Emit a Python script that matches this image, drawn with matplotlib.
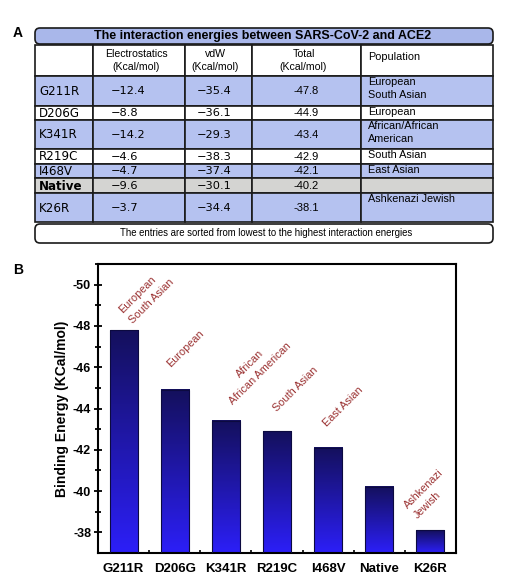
import numpy as np
import matplotlib
matplotlib.use("Agg")
import matplotlib.pyplot as plt
from matplotlib.patches import Rectangle, FancyBboxPatch
from matplotlib.colors import LinearSegmentedColormap

plt.rcParams['font.family'] = ['Liberation Sans', 'DejaVu Sans']

# data
mutations = ["G211R", "D206G", "K341R", "R219C", "I468V", "Native", "K26R"]
electro = ["\u221212.4", "\u22128.8", "\u221214.2", "\u22124.6", "\u22124.7", "\u22129.6", "\u22123.7"]
vdw = ["\u221235.4", "\u221236.1", "\u221229.3", "\u221238.3", "\u221237.4", "\u221230.1", "\u221234.4"]
total = [-47.8, -44.9, -43.4, -42.9, -42.1, -40.2, -38.1]
population = ["European\nSouth Asian", "European", "African/African\nAmerican", "South Asian",
              "East Asian", "", "Ashkenazi Jewish"]
bar_labels = ["European\nSouth Asian", "European", "African\nAfrican American", "South Asian",
              "East Asian", "", "Ashkenazi\nJewish"]
title = "The interaction energies between SARS-CoV-2 and ACE2"
headers = ["Electrostatics\n(Kcal/mol)", "vdW\n(Kcal/mol)", "Total\n(Kcal/mol)", "Population"]
footer = "The entries are sorted from lowest to the highest interaction energies"

fig = plt.figure(figsize=(5.12, 5.84), dpi=100)

# ---- panel A: table drawn in pixel coords
ax_t = fig.add_axes([0, 0, 1, 1])
ax_t.set_xlim(0, 512)
ax_t.set_ylim(584, 0)
ax_t.axis("off")

blue = "#b5c2f0"
grey = "#d4d4d2"
edge = "#1a1a1a"
cols = [35, 93, 185, 252, 361, 493]
row_h = [30, 14, 29, 15, 14, 15, 29]
row_fill = [blue, "white", blue, "white", blue, grey, blue]

ax_t.text(13, 33, "A", fontsize=10, fontweight="bold", ha="left", va="center")
ax_t.add_patch(FancyBboxPatch((35, 28), 458, 16, boxstyle="round,pad=0,rounding_size=5",
                              fc="#a9b7ea", ec=edge, lw=1.2))
ax_t.text(263, 36.5, title, fontsize=9, fontweight="bold", ha="center", va="center")

# header row
y0 = 45
for i in range(5):
    ax_t.add_patch(Rectangle((cols[i], y0), cols[i + 1] - cols[i], 31, fc="white", ec=edge, lw=1.2))
for i, h in enumerate(headers[:3]):
    ax_t.text((cols[i + 1] + cols[i + 2]) / 2 - 3, y0 + 15.5, h, fontsize=7.6, ha="center", va="center",
              linespacing=1.45)
ax_t.text(cols[4] + 7, y0 + 12, headers[3], fontsize=7.8, ha="left", va="center")

y = 76
for r, m in enumerate(mutations):
    h = row_h[r]
    for i in range(5):
        ax_t.add_patch(Rectangle((cols[i], y), cols[i + 1] - cols[i], h, fc=row_fill[r], ec=edge, lw=1.2))
    yc = y + h / 2 + 0.5
    ax_t.text(cols[0] + 4, yc, m, fontsize=8.6, family="DejaVu Sans", ha="left", va="center",
              fontweight="bold" if m == "Native" else "normal")
    ax_t.text(cols[1] + 18, yc, electro[r], fontsize=8.2, family="DejaVu Sans", ha="left", va="center")
    ax_t.text(cols[2] + 12, yc, vdw[r], fontsize=8.2, family="DejaVu Sans", ha="left", va="center")
    ax_t.text((cols[3] + cols[4]) / 2, yc, "%.1f" % total[r], fontsize=8, ha="center", va="center")
    ax_t.text(cols[4] + 7, y + 1.2, population[r], fontsize=7.8, ha="left", va="top", linespacing=1.4)
    y += h

ax_t.add_patch(FancyBboxPatch((35, 224), 458, 19, boxstyle="round,pad=0,rounding_size=5",
                              fc="white", ec=edge, lw=1.2))
ax_t.text(266, 233, footer, fontsize=6.9, ha="center", va="center")
ax_t.text(13, 270, "B", fontsize=10, fontweight="bold", ha="left", va="center")

# ---- panel B: bar chart
ax = fig.add_axes([98 / 512, (584 - 553) / 584, 358 / 512, 289 / 584])
x = np.arange(len(mutations))
base = -37
w = 0.55
bars = ax.bar(x, np.array(total) - base, bottom=base, width=w, fc="none", ec="#0c0a40", lw=0.8, zorder=3)

cmap = LinearSegmentedColormap.from_list("bg", ["#2c1ff8", "#14105c"])
grad = np.linspace(0, 1, 256).reshape(-1, 1)
for b in bars:
    x0 = b.get_x()
    ax.imshow(grad, cmap=cmap, aspect="auto", origin="lower", zorder=2,
              extent=[x0, x0 + b.get_width(), b.get_y(), b.get_y() + b.get_height()])

ax.set_xlim(-0.5, 6.5)
ax.set_ylim(-37, -51)

offsets = [(16.5, 24.5), (7.5, 29.5), (21, 37.5), (13.7, 30.2), (10.8, 29.5), (0, 0), (-1.4, 26)]
aligns = ["left", "left", "center", "left", "left", "left", "left"]
for i, lab in enumerate(bar_labels):
    if not lab:
        continue
    ax.annotate(lab, (x[i], total[i]), xytext=offsets[i], textcoords="offset points",
                rotation=45, ha="center", va="center", multialignment=aligns[i],
                fontsize=7.8, color="#9a3030", linespacing=1.45)

ax.set_yticks(np.arange(-50, -37, 2))
ax.set_yticks(np.arange(-51, -37, 2), minor=True)
ax.set_yticklabels(["%d" % v for v in np.arange(-50, -37, 2)])
ax.set_xticks(x)
ax.set_xticks(x[:-1] + 0.5, minor=True)
ax.set_xticklabels(mutations)
ax.tick_params(axis="y", which="major", direction="inout", length=6, width=1.3, pad=2,
               labelsize=9)
ax.tick_params(axis="y", which="minor", direction="inout", length=4, width=1.3)
ax.tick_params(axis="x", which="major", direction="in", length=3, width=1.2, pad=7, labelsize=9.5)
ax.tick_params(axis="x", which="minor", direction="in", length=2, width=1.2)
for t in ax.get_xticklabels() + ax.get_yticklabels():
    t.set_fontweight("bold")
for s in ax.spines.values():
    s.set_linewidth(1.5)
ax.set_ylabel("Binding Energy (KCal/mol)", fontsize=10, fontweight="bold", labelpad=3)

fig.savefig("out.png", dpi=100)
